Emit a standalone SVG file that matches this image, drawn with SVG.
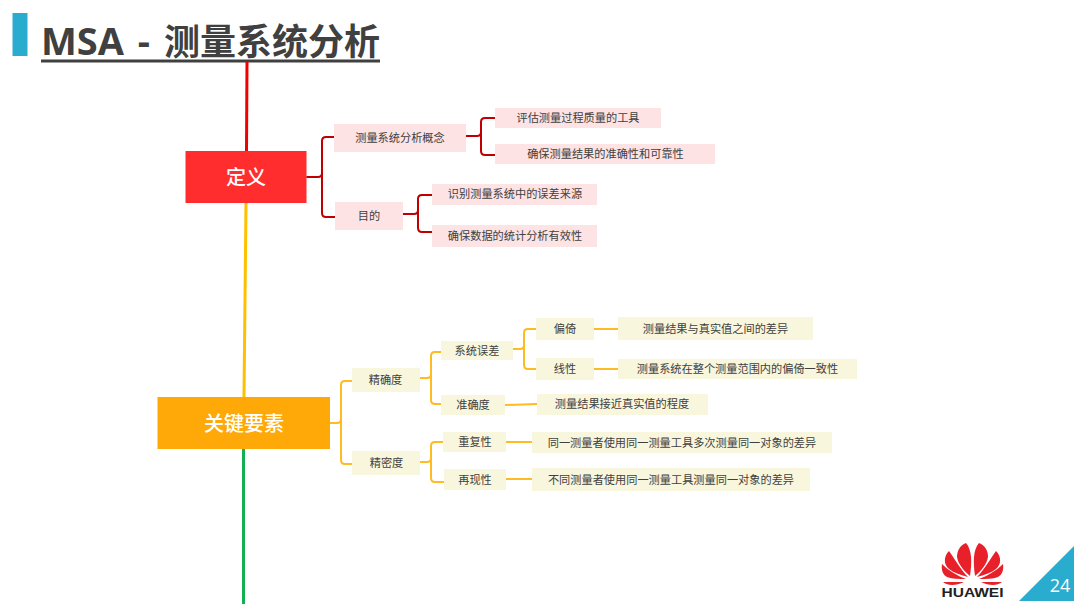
<svg xmlns="http://www.w3.org/2000/svg" width="1080" height="607" viewBox="0 0 1080 607">
<defs>
<style>
text{font-family:"Noto Sans CJK SC","Noto Sans",sans-serif}
.p{fill:#fde3e3}.y{fill:#f9f6de}
.t{font-size:11.2px;fill:#404040;text-anchor:middle}
.h{font-size:20px;fill:#fff;text-anchor:middle;font-weight:500}
.r,.o{fill:none;stroke-width:2;stroke-linecap:round;stroke-linejoin:round}
.r{stroke:#c00000}.o{stroke:#ffbb22}
.petal{fill:#e8202a}
</style>
</defs>
<rect width="1080" height="607" fill="#fff"/>
<g id="title">
<rect x="12.500" y="13" width="15" height="43" fill="#2aaccf"/>
<text x="41" y="55" style="font-family:'Open Sans','Noto Sans CJK SC',sans-serif;font-size:38px;font-weight:700;fill:#404040;word-spacing:4px">MSA - <tspan x="164" style="font-family:'Noto Sans CJK SC',sans-serif;font-size:36px">测量系统分析</tspan></text>
<rect x="41" y="59.500" width="339" height="3" fill="#404040"/>
</g>
<g id="connectors">
<path d="M247 62L246.500 151" fill="none" stroke="#f00000" stroke-width="3"/>
<path d="M246 203L244 397" fill="none" stroke="#ffc000" stroke-width="3"/>
<path d="M243.500 449V604" fill="none" stroke="#12b050" stroke-width="3"/>
<path class="r" d="M307 177H318Q322 177 322 173V141Q322 137 326 137H334M322 173V213Q322 217 326 217H335"/>
<path class="r" d="M466 136H477Q481 136 481 132V122Q481 118 485 118H495M481 132V151Q481 155 485 155H495"/>
<path class="r" d="M403 214H414Q418 214 418 210V199Q418 195 422 195H432M418 210V228Q418 232 422 232H432"/>
<path class="o" d="M330 423H337Q341 423 341 419V385Q341 381 345 381H352M341 419V460Q341 464 345 464H352"/>
<path class="o" d="M420 378H427Q431 378 431 374V356Q431 352 435 352H441M431 374V400Q431 404 435 404H441"/>
<path class="o" d="M420 462H427Q431 462 431 458V446Q431 442 435 442H443M431 458V478Q431 482 435 482H444"/>
<path class="o" d="M513 349H520Q524 349 524 345V333Q524 329 528 329H536M524 345V365Q524 369 528 369H536"/>
<path class="o" d="M594 329H618M594 369H618M505 405L537 404M506 442H532M506 479H532"/>
</g>
<g id="n-def"><rect x="185.500" y="151" width="121" height="52" fill="#ff2d2d"/><text class="h" x="246" y="184.500">定义</text></g>
<g id="n-key"><rect x="157.500" y="397" width="172.500" height="52" fill="#ffa908"/><text class="h" x="244" y="430.500">关键要素</text></g>
<g id="n1"><rect class="p" x="334" y="124" width="132" height="28"/><text class="t" x="400" y="142">测量系统分析概念</text></g>
<g id="n2"><rect class="p" x="335" y="202" width="68" height="28"/><text class="t" x="369" y="220">目的</text></g>
<g id="n3"><rect class="p" x="495" y="108" width="166" height="20"/><text class="t" x="578" y="122">评估测量过程质量的工具</text></g>
<g id="n4"><rect class="p" x="495" y="144" width="220" height="20"/><text class="t" x="605.500" y="158">确保测量结果的准确性和可靠性</text></g>
<g id="n5"><rect class="p" x="432" y="184" width="165" height="21"/><text class="t" x="515" y="198">识别测量系统中的误差来源</text></g>
<g id="n6"><rect class="p" x="432" y="225" width="165" height="22"/><text class="t" x="515" y="240">确保数据的统计分析有效性</text></g>
<g id="n7"><rect class="y" x="352" y="368" width="68" height="24"/><text class="t" x="385.500" y="384">精确度</text></g>
<g id="n8"><rect class="y" x="352" y="451" width="68" height="24"/><text class="t" x="386.500" y="467">精密度</text></g>
<g id="n9"><rect class="y" x="441" y="341" width="72" height="19"/><text class="t" x="477" y="355">系统误差</text></g>
<g id="n10"><rect class="y" x="441" y="395" width="64" height="20"/><text class="t" x="473" y="409">准确度</text></g>
<g id="n11"><rect class="y" x="443" y="432" width="63" height="20"/><text class="t" x="475" y="446">重复性</text></g>
<g id="n12"><rect class="y" x="444" y="469" width="62" height="21"/><text class="t" x="475" y="484">再现性</text></g>
<g id="n13"><rect class="y" x="536" y="318" width="58" height="22"/><text class="t" x="565" y="333">偏倚</text></g>
<g id="n14"><rect class="y" x="536" y="358" width="58" height="22"/><text class="t" x="565" y="373">线性</text></g>
<g id="n15"><rect class="y" x="618" y="317" width="195" height="23"/><text class="t" x="715.500" y="333">测量结果与真实值之间的差异</text></g>
<g id="n16"><rect class="y" x="618" y="359" width="239" height="20"/><text class="t" x="737.500" y="373">测量系统在整个测量范围内的偏倚一致性</text></g>
<g id="n17"><rect class="y" x="537" y="394" width="171" height="21"/><text class="t" x="622" y="408">测量结果接近真实值的程度</text></g>
<g id="n18"><rect class="y" x="532" y="432" width="300" height="21"/><text class="t" x="682" y="447">同一测量者使用同一测量工具多次测量同一对象的差异</text></g>
<g id="n19"><rect class="y" x="532" y="468" width="278" height="23"/><text class="t" x="671" y="484">不同测量者使用同一测量工具测量同一对象的差异</text></g>
<g id="logo">
<g id="petals-r">
<path class="petal" d="M975 576C973 562 973 550 979 543C985 545 988 551 988 557C987 564 981 571 975 576Z"/>
<path class="petal" d="M977 577C984 570 991 558 996 551C1002 557 1001 565 996 569C991 573 984 575 977 577Z"/>
<path class="petal" d="M979 579C987 576 996 571 1003 564C1004 570 1002 575 998 577C993 579 986 579 979 579Z"/>
<path class="petal" d="M981 582H1002C1000 584 996 585 993 585C989 585 985 584 981 582Z"/>
</g>
<g transform="matrix(-1 0 0 1 1945 0)">
<path class="petal" d="M975 576C973 562 973 550 979 543C985 545 988 551 988 557C987 564 981 571 975 576Z"/>
<path class="petal" d="M977 577C984 570 991 558 996 551C1002 557 1001 565 996 569C991 573 984 575 977 577Z"/>
<path class="petal" d="M979 579C987 576 996 571 1003 564C1004 570 1002 575 998 577C993 579 986 579 979 579Z"/>
<path class="petal" d="M981 582H1002C1000 584 996 585 993 585C989 585 985 584 981 582Z"/>
</g>
<text x="972.500" y="597" text-anchor="middle" textLength="62" lengthAdjust="spacingAndGlyphs" style="font-family:'Liberation Sans',sans-serif;font-size:12px;font-weight:700;fill:#222">HUAWEI</text>
</g>
<g id="page">
<path d="M1019 601L1074 546V601Z" fill="#2aaccf"/>
<text x="1060" y="592" text-anchor="middle" style="font-family:'Open Sans',sans-serif;font-size:18px;fill:#fff">24</text>
</g>
</svg>
